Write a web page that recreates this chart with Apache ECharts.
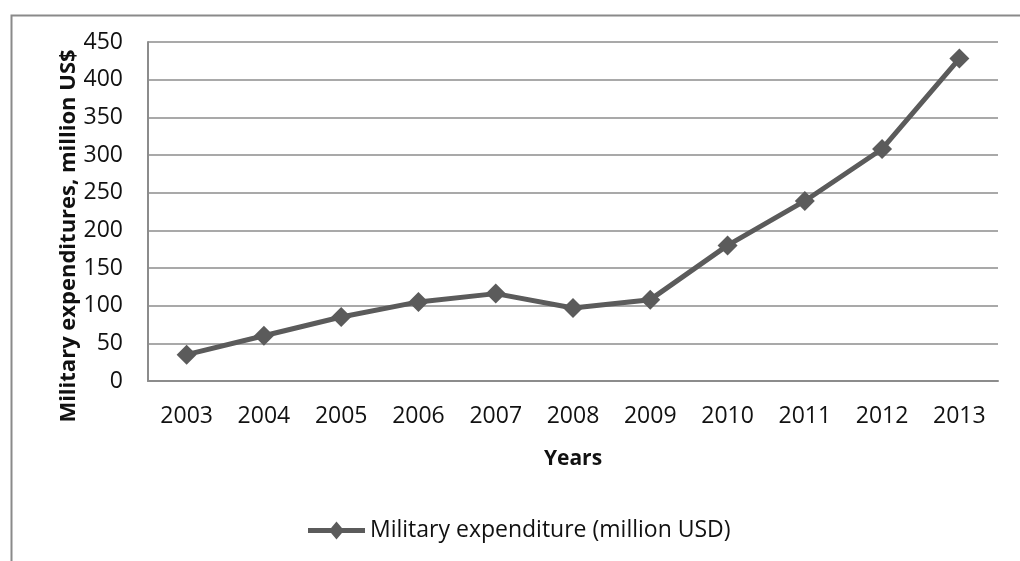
<!DOCTYPE html>
<html>
<head>
<meta charset="utf-8">
<script src="https://cdn.jsdelivr.net/npm/echarts@6/dist/echarts.min.js"></script>
<style>
  html, body { margin: 0; padding: 0; background: #fff; }
  #chart { width: 1020px; height: 561px; }
</style>
</head>
<body>
<div id="chart"></div>
<script>
// Annual military expenditure, million USD
const years = ['2003', '2004', '2005', '2006', '2007', '2008', '2009', '2010', '2011', '2012', '2013'];
const expenditure = [35, 60, 85, 105, 116, 97, 108, 180, 239, 308, 428];
const seriesName = 'Military expenditure (million USD)';
const yTitle = 'Military expenditures, million US$';
const xTitle = 'Years';

const font = '"Open Sans", "Liberation Sans", sans-serif';
const lineColor = '#5b5b5b';
const gridColor = '#8c8c8c';

// Legend glyph: thick line with a diamond in the middle (57 x 18)
const legendIcon = 'path://M0,6.5 L23.08,6.5 L28.5,0 L33.92,6.5 L57,6.5 L57,11.5 L33.92,11.5 L28.5,18 L23.08,11.5 L0,11.5 Z';

const chart = echarts.init(document.getElementById('chart'), null, { renderer: 'canvas' });
chart.setOption({
  animation: false,
  backgroundColor: '#ffffff',
  textStyle: { fontFamily: font },
  grid: { left: 148, top: 42, right: 22, bottom: 180, containLabel: false },
  legend: {
    data: [{ name: seriesName, icon: legendIcon }],
    left: 308,
    top: 519,
    padding: 0,
    itemWidth: 57,
    itemHeight: 18,
    itemStyle: { color: lineColor, borderWidth: 0 },
    lineStyle: { width: 0 },
    textStyle: { fontFamily: font, fontSize: 23, color: '#111' }
  },
  xAxis: {
    type: 'category',
    data: years,
    boundaryGap: true,
    axisLine: { lineStyle: { color: gridColor, width: 2 } },
    axisTick: { show: false },
    axisLabel: { fontFamily: font, fontSize: 23, color: '#111', margin: 24 },
    name: xTitle,
    nameLocation: 'middle',
    nameGap: 68,
    nameTextStyle: { fontFamily: font, fontSize: 21, fontWeight: 'bold', color: '#111' }
  },
  yAxis: {
    type: 'value',
    min: 0,
    max: 450,
    interval: 50,
    axisLine: { show: true, lineStyle: { color: gridColor, width: 2 } },
    axisTick: { show: false },
    splitLine: { lineStyle: { color: gridColor, width: 1.5 } },
    axisLabel: { fontFamily: font, fontSize: 23, color: '#111', margin: 25 }
  },
  graphic: [
    {
      type: 'rect',
      left: 9, top: 13,
      shape: { width: 1100, height: 600 },
      style: { fill: 'none', stroke: '#8a8a8a', lineWidth: 2 },
      silent: true
    },
    {
      type: 'text',
      x: 69, y: 236,
      rotation: Math.PI / 2,
      style: {
        text: yTitle,
        font: 'bold 22px ' + font,
        fill: '#111',
        align: 'center',
        verticalAlign: 'middle'
      }
    }
  ],
  series: [{
    name: seriesName,
    type: 'line',
    data: expenditure,
    symbol: 'diamond',
    symbolSize: 20,
    lineStyle: { color: lineColor, width: 5 },
    itemStyle: { color: lineColor, borderWidth: 0 }
  }]
});
</script>
</body>
</html>
